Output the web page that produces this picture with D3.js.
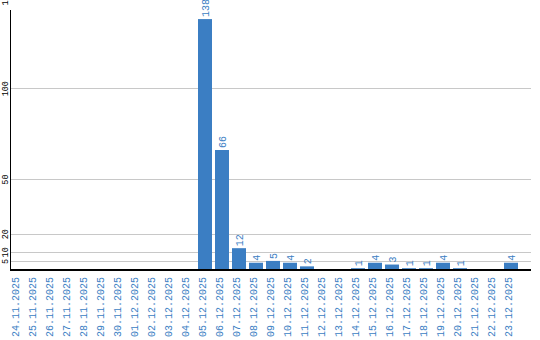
<!DOCTYPE html>
<html>
<head>
<meta charset="utf-8">
<script src="https://d3js.org/d3.v7.min.js"></script>
<style>
    body { margin: 0; background: #fff; }
    svg { display: block; }
</style>
</head>
<body>
<svg id="drawing_region"></svg>
<script>
const dates = [
    '24.11.2025', '25.11.2025', '26.11.2025', '27.11.2025', '28.11.2025',
    '29.11.2025', '30.11.2025', '01.12.2025', '02.12.2025', '03.12.2025',
    '04.12.2025', '05.12.2025', '06.12.2025', '07.12.2025', '08.12.2025',
    '09.12.2025', '10.12.2025', '11.12.2025', '12.12.2025', '13.12.2025',
    '14.12.2025', '15.12.2025', '16.12.2025', '17.12.2025', '18.12.2025',
    '19.12.2025', '20.12.2025', '21.12.2025', '22.12.2025', '23.12.2025'
];
const counts = [
    0, 0, 0, 0, 0, 0, 0, 0, 0, 0,
    0, 138, 66, 12, 4, 5, 4, 2, 0, 0,
    1, 4, 3, 1, 1, 4, 1, 0, 0, 4
];
const yticks = [5, 10, 20, 50, 100, 150];

const data = dates.map((d, i) => ({ date: d, value: counts[i] }));

class BarChart {

    constructor( config, data ) {
        this.config = config;
        this.data = data;
        this.init();
    }

    init() {
        let self = this;

        self.svg = d3.select( self.config.parent )
            .attr('width', self.config.width)
            .attr('height', self.config.height);

        self.xscale = d3.scaleBand()
            .domain( self.data.map(d => d.date) )
            .range( [11, 518] )
            .paddingInner( 3/17 )
            .paddingOuter( 0 );

        self.yscale = d3.scaleLinear()
            .domain( [0, 143] )
            .range( [270, 10] );
    }

    render() {
        let self = this;
        const blue = '#3b7ec3';
        const mono = '"Liberation Mono", "DejaVu Sans Mono", monospace';

        // grid lines
        self.svg.append('g')
            .selectAll('line')
            .data(yticks)
            .join('line')
            .attr('x1', 11)
            .attr('x2', 531)
            .attr('y1', d => Math.round(self.yscale(d)) + 0.5)
            .attr('y2', d => Math.round(self.yscale(d)) + 0.5)
            .attr('stroke', '#c8c8c8')
            .attr('stroke-width', 1);

        // tick labels
        self.svg.append('g')
            .selectAll('text')
            .data(yticks)
            .join('text')
            .attr('transform', d => `translate(8, ${self.yscale(d) + 0.5}) rotate(-90)`)
            .attr('text-anchor', 'middle')
            .style('font-family', mono)
            .style('font-size', '8.5px')
            .attr('fill', '#000')
            .text(d => d);

        // bars
        self.svg.append('g')
            .selectAll('rect')
            .data(self.data.filter(d => d.value > 0))
            .join('rect')
            .attr('x', d => self.xscale(d.date))
            .attr('y', d => self.yscale(d.value))
            .attr('width', self.xscale.bandwidth())
            .attr('height', d => self.yscale(0) - self.yscale(d.value))
            .attr('fill', blue);

        // value labels
        self.svg.append('g')
            .selectAll('text')
            .data(self.data.filter(d => d.value > 0))
            .join('text')
            .attr('transform', d => `translate(${self.xscale(d.date) + self.xscale.bandwidth() / 2 + 3.5}, ${self.yscale(d.value) - 2}) rotate(-90)`)
            .attr('text-anchor', 'start')
            .style('font-family', mono)
            .style('font-size', '10px')
            .attr('fill', blue)
            .text(d => d.value);

        // category labels
        self.svg.append('g')
            .selectAll('text')
            .data(self.data)
            .join('text')
            .attr('transform', d => `translate(${self.xscale(d.date) + self.xscale.bandwidth() / 2 + 1}, 277) rotate(-90)`)
            .attr('text-anchor', 'end')
            .style('font-family', mono)
            .style('font-size', '10px')
            .attr('fill', blue)
            .text(d => d.date);

        // axes
        self.svg.append('line')
            .attr('x1', 10.5).attr('x2', 10.5)
            .attr('y1', 10).attr('y2', 271)
            .attr('stroke', '#000')
            .attr('stroke-width', 1);

        self.svg.append('line')
            .attr('x1', 10).attr('x2', 531)
            .attr('y1', 270).attr('y2', 270)
            .attr('stroke', '#000')
            .attr('stroke-width', 2);
    }
}

const chart = new BarChart({
    parent: '#drawing_region',
    width: 540,
    height: 340
}, data);
chart.render();
</script>
</body>
</html>
